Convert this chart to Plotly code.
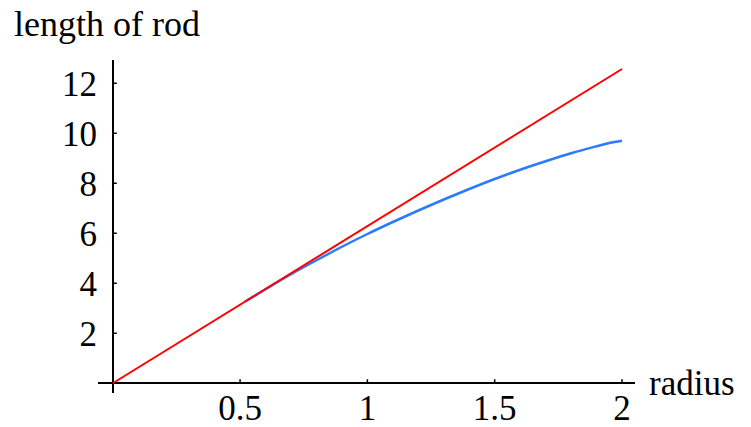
import plotly.graph_objects as go

# Data
red_r = [0.0, 0.25, 0.5, 0.75, 1.0, 1.25, 1.5, 1.75, 2.0]
red_len = [0.0, 1.57, 3.14, 4.71, 6.28, 7.85, 9.42, 11.0, 12.57]

blue_r = [0.52, 0.6, 0.7, 0.8, 0.9, 1.0, 1.1, 1.2, 1.3, 1.4, 1.5, 1.6, 1.7, 1.8, 1.9, 1.95, 2.0]
blue_len = [3.27, 3.76, 4.36, 4.92, 5.46, 5.97, 6.45, 6.91, 7.35, 7.77, 8.17, 8.54, 8.88, 9.2, 9.48, 9.61, 9.7]

x_ticks = [0.5, 1, 1.5, 2]
x_ticklabels = ["0.5", "1", "1.5", "2"]
y_ticks = [2, 4, 6, 8, 10, 12]
y_ticklabels = ["2", "4", "6", "8", "10", "12"]

FONT = "Liberation Serif, Times New Roman, serif"

fig = go.Figure()
fig.add_trace(go.Scatter(x=blue_r, y=blue_len, mode="lines", line_shape="spline",
                         line=dict(color="#2a7bff", width=2.5), showlegend=False))
fig.add_trace(go.Scatter(x=red_r, y=red_len, mode="lines",
                         line=dict(color="#ff0000", width=2), showlegend=False))

shapes = []
for t in x_ticks:
    shapes.append(dict(type="line", xref="x", yref="y", x0=t, x1=t,
                       ysizemode="pixel", yanchor=0, y0=0, y1=4,
                       line=dict(color="black", width=1.5)))
for t in y_ticks:
    shapes.append(dict(type="line", xref="x", yref="y", y0=t, y1=t,
                       xsizemode="pixel", xanchor=0, x0=0, x1=4,
                       line=dict(color="black", width=1.5)))

fig.update_layout(
    width=751, height=427,
    margin=dict(l=98, r=116, t=60, b=34, autoexpand=False),
    paper_bgcolor="white", plot_bgcolor="white",
    font=dict(family=FONT, size=35, color="black"),
    shapes=shapes,
    xaxis=dict(range=[-0.058, 2.051], tickvals=x_ticks, ticktext=x_ticklabels,
               showgrid=False, zeroline=True, zerolinecolor="black", zerolinewidth=2,
               showline=False, ticks="", ticklabelstandoff=-9, automargin=False),
    yaxis=dict(range=[-0.39, 12.93], tickvals=y_ticks, ticktext=y_ticklabels,
               showgrid=False, zeroline=True, zerolinecolor="black", zerolinewidth=2,
               showline=False, ticks="", ticklabelstandoff=0, automargin=False),
    annotations=[
        dict(text="length of rod", xref="paper", yref="paper", x=-0.16, y=1.0,
             xanchor="left", yanchor="bottom", yshift=14, showarrow=False,
             font=dict(family=FONT, size=36)),
        dict(text="radius", xref="paper", yref="y", x=1.0, y=0,
             xanchor="left", yanchor="middle", xshift=12, showarrow=False,
             font=dict(family=FONT, size=35)),
    ],
)

fig.write_html("out.html")
